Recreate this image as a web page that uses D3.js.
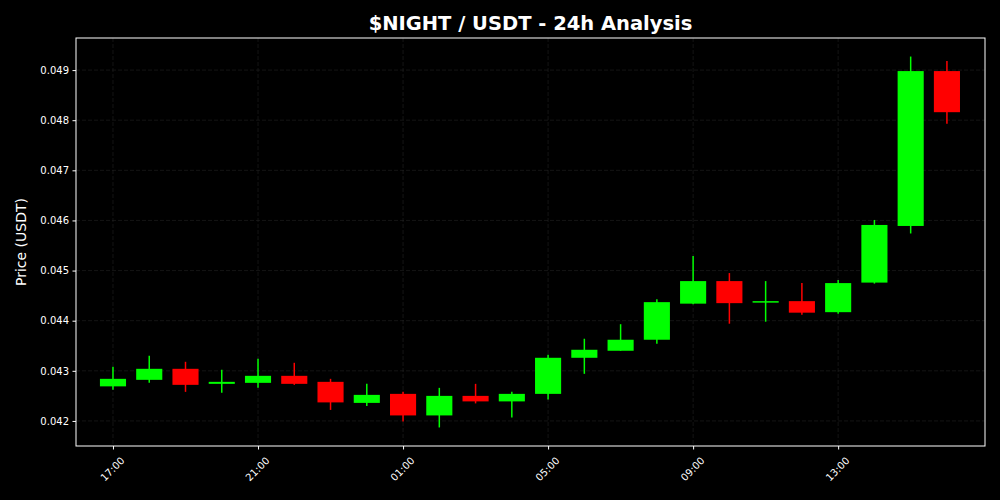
<!DOCTYPE html>
<html>
<head>
<meta charset="utf-8">
<script src="https://cdn.jsdelivr.net/npm/d3@7"></script>
<style>
  html, body { margin: 0; padding: 0; background: #000; }
  svg { display: block; font-family: "DejaVu Sans", sans-serif; }
</style>
</head>
<body>
<div id="chart"></div>
<script>
// hourly candles, 17:00 -> 16:00
var hours = ["17:00","18:00","19:00","20:00","21:00","22:00","23:00","00:00",
             "01:00","02:00","03:00","04:00","05:00","06:00","07:00","08:00",
             "09:00","10:00","11:00","12:00","13:00","14:00","15:00","16:00"];
var open  = [0.04269,0.04282,0.04304,0.04274,0.04276,0.04290,0.04278,0.04236,
             0.04254,0.04211,0.04250,0.04239,0.04254,0.04326,0.04340,0.04362,
             0.04434,0.04479,0.04437,0.04439,0.04417,0.04476,0.04589,0.04898];
var high  = [0.04308,0.04330,0.04318,0.04302,0.04324,0.04316,0.04284,0.04274,
             0.04258,0.04266,0.04274,0.04258,0.04332,0.04364,0.04393,0.04443,
             0.04529,0.04495,0.04479,0.04475,0.04481,0.04601,0.04927,0.04918];
var low   = [0.04262,0.04276,0.04258,0.04256,0.04266,0.04272,0.04222,0.04230,
             0.04199,0.04187,0.04235,0.04207,0.04243,0.04294,0.04340,0.04354,
             0.04433,0.04394,0.04398,0.04412,0.04414,0.04474,0.04574,0.04793];
var close = [0.04284,0.04304,0.04272,0.04278,0.04290,0.04274,0.04237,0.04252,
             0.04211,0.04250,0.04239,0.04254,0.04326,0.04342,0.04362,0.04437,
             0.04479,0.04435,0.04439,0.04416,0.04475,0.04591,0.04898,0.04816];
var yTicks = [0.042,0.043,0.044,0.045,0.046,0.047,0.048,0.049];
var xTickIdx = [0,4,8,12,16,20];

var width = 1000, height = 500,
    margin = {top: 38, right: 15, bottom: 54, left: 76},
    w = width - margin.left - margin.right,
    h = height - margin.top - margin.bottom;

var candles = hours.map(function(t, i) {
  return {i: i, t: t, o: open[i], h: high[i], l: low[i], c: close[i]};
});

var x = d3.scaleLinear().domain([-1.02, 24.05]).range([0, w]);
var y = d3.scaleLinear().domain([0.04150, 0.04964]).range([h, 0]);

var svg = d3.select('#chart').append('svg')
  .attr('width', width)
  .attr('height', height);

svg.append('rect').attr('width', width).attr('height', height).attr('fill', '#000');

var g = svg.append('g').attr('transform', 'translate(' + margin.left + ',' + margin.top + ')');

// grid
g.append('g').selectAll('line.hg').data(yTicks).enter().append('line')
  .attr('x1', 0).attr('x2', w)
  .attr('y1', function(d) { return y(d); }).attr('y2', function(d) { return y(d); })
  .attr('stroke', '#333').attr('stroke-opacity', 0.5).attr('stroke-width', 0.8)
  .attr('stroke-dasharray', '4,2');
g.append('g').selectAll('line.vg').data(xTickIdx).enter().append('line')
  .attr('y1', 0).attr('y2', h)
  .attr('x1', function(d) { return x(d); }).attr('x2', function(d) { return x(d); })
  .attr('stroke', '#333').attr('stroke-opacity', 0.5).attr('stroke-width', 0.8)
  .attr('stroke-dasharray', '4,2');

// candles
var bw = x(0.72) - x(0);
var cg = g.append('g').selectAll('g').data(candles).enter().append('g');
cg.append('line')
  .attr('x1', function(d) { return x(d.i); }).attr('x2', function(d) { return x(d.i); })
  .attr('y1', function(d) { return y(d.h); }).attr('y2', function(d) { return y(d.l); })
  .attr('stroke', function(d) { return d.c >= d.o ? '#00ff00' : '#ff0000'; })
  .attr('stroke-width', 1.5);
cg.append('rect')
  .attr('x', function(d) { return x(d.i) - bw / 2; })
  .attr('width', bw)
  .attr('y', function(d) { return y(Math.max(d.o, d.c)); })
  .attr('height', function(d) { return Math.max(1.5, Math.abs(y(d.o) - y(d.c))); })
  .attr('fill', function(d) { return d.c >= d.o ? '#00ff00' : '#ff0000'; });

// frame
g.append('rect').attr('width', w).attr('height', h)
  .attr('fill', 'none').attr('stroke', '#fff').attr('stroke-width', 1);

// axes
var yAxis = g.append('g')
  .call(d3.axisLeft(y).tickValues(yTicks).tickFormat(d3.format('.3f')).tickSize(3.5).tickPadding(3.5));
var xAxis = g.append('g').attr('transform', 'translate(0,' + h + ')')
  .call(d3.axisBottom(x).tickValues(xTickIdx).tickFormat(function(d) { return hours[d]; }).tickSize(3.5));
[yAxis, xAxis].forEach(function(a) {
  a.select('.domain').remove();
  a.selectAll('line').attr('stroke', '#fff');
  a.selectAll('text').attr('fill', '#fff').style('font-size', '10px')
    .style('font-family', '"DejaVu Sans", sans-serif');
});
xAxis.selectAll('text')
  .attr('y', 0).attr('dy', 0)
  .attr('text-anchor', 'middle')
  .attr('dominant-baseline', 'central')
  .attr('transform', 'translate(-1,23) rotate(-45)');

// labels
svg.append('text')
  .attr('x', margin.left + w / 2).attr('y', 30)
  .attr('text-anchor', 'middle').attr('fill', '#fff')
  .style('font-size', '19.5px').style('font-weight', 'bold')
  .text('$NIGHT / USDT - 24h Analysis');
svg.append('text')
  .attr('transform', 'translate(26,' + (margin.top + h / 2) + ') rotate(-90)')
  .attr('text-anchor', 'middle').attr('fill', '#fff')
  .style('font-size', '14px')
  .text('Price (USDT)');
</script>
</body>
</html>
